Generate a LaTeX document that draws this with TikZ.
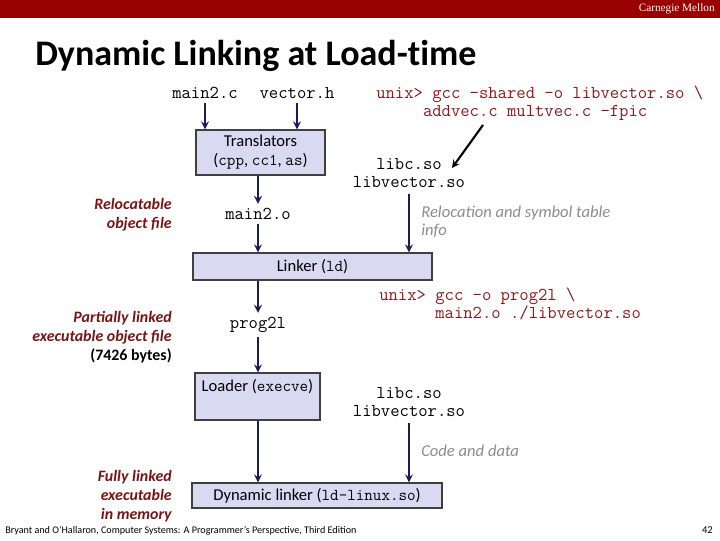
\documentclass[tikz,border=0pt]{standalone}
\usepackage{fontspec}
\setmainfont{Carlito}
\setsansfont{Carlito}
\newfontfamily\cmuserif{Liberation Serif}
\usepackage{xcolor}
\usepackage{tikz}

\definecolor{cmured}{HTML}{990000}
\definecolor{capred}{HTML}{7A1414}
\definecolor{cmdred}{HTML}{8B1A1A}
\definecolor{arrowblue}{HTML}{1C1C5C}
\definecolor{boxfill}{HTML}{D9D9F2}
\definecolor{notegray}{HTML}{8C8C8C}

\begin{document}
\begin{tikzpicture}[>=stealth,x=0.025cm,y=-0.025cm,
  box/.style={draw=black!75,line width=0.8pt,fill=boxfill,inner sep=0pt,font=\fontsize{11.8}{13.5}\selectfont,align=center},
  file/.style={inner sep=3pt,font=\ttfamily\fontsize{12.9}{13.5}\selectfont,align=center},
  cmd/.style={anchor=north west,inner sep=0pt,text=cmdred,font=\ttfamily\fontsize{12.9}{12.2}\selectfont,align=left},
  caption/.style={anchor=east,inner sep=0pt,text=capred,font=\bfseries\itshape\fontsize{11.3}{13.5}\selectfont,align=right},
  note/.style={anchor=west,inner sep=0pt,text=notegray,font=\itshape\fontsize{11.8}{13}\selectfont,align=left},
  flow/.style={->,arrowblue,line width=1.5pt}]
\useasboundingbox (0,0) rectangle (720,540);
\fill[cmured] (0,0) rectangle (720,18);
\node[anchor=east,inner sep=0pt,text=white,font=\cmuserif\fontsize{8}{9}\selectfont] (cmu) at (715,9) {Carnegie Mellon};
\node[anchor=base west,inner sep=0pt,font=\bfseries\fontsize{25.6}{28}\selectfont\addfontfeatures{Ligatures=NoCommon}] (title) at (35,65) {Dynamic Linking at Load-time};

% compile and link
\node[file] (mainc) at (205,93) {main2.c};
\node[file] (vech) at (297,93) {vector.h};
\node[box,minimum width=3.225cm,minimum height=1.125cm] (trans) at (260.5,152.5) {Translators\\(\texttt{cpp}, \texttt{cc1}, \texttt{as})};
\node[file] (maino) at (258,214) {main2.o};
\node[box,minimum width=5.975cm,minimum height=0.675cm] (linker) at (312.5,266.5) {Linker (\texttt{ld})};
\node[cmd] (cmdso) at (376,86) {unix> gcc -shared -o libvector.so \textbackslash\\\phantom{unix>}addvec.c multvec.c -fpic};
\node[file,inner sep=4pt] (libsa) at (409,173) {libc.so\\libvector.so};
\node[note] (reloc) at (421,222) {Relocation and symbol table\\info};
\node[caption] (relcap) at (172,215) {Relocatable\\object file};
\coordinate (gccfrom) at (483,125);
\coordinate (gccto) at (452,168);

% load and run
\node[file] (progl) at (258,325) {prog2l};
\node[box,minimum width=3.125cm,minimum height=1.175cm,
  label={[anchor=north,inner sep=5pt,font=\fontsize{11.8}{13.5}\selectfont]north:Loader (\texttt{execve})}] (loader) at (257.5,396.5) {};
\node[cmd] (cmdprog) at (379,288) {unix> gcc –o prog2l \textbackslash\\\phantom{unix> }main2.o ./libvector.so};
\node[file,inner sep=4pt] (libsb) at (409,402) {libc.so\\libvector.so};
\node[note] (codedata) at (421,451) {Code and data};
\node[box,minimum width=6.25cm,minimum height=0.625cm] (dyn) at (317,495.5) {Dynamic linker (\texttt{ld-linux.so})};
\node[caption,text=capred] (partcap) at (172,337) {Partially linked\\executable object file\\\textcolor{black}{\upshape(7426 bytes)}};
\node[caption] (fullcap) at (172,496) {Fully linked\\executable\\in memory};

\draw[flow] (mainc.south) -- (trans.north -| mainc);
\draw[flow] (vech.south) -- (trans.north -| vech);
\draw[flow] (trans.south -| maino) -- (maino.north);
\draw[flow] (maino.south) -- (linker.north -| maino);
\draw[flow] (libsa.south) -- (linker.north -| libsa);
\draw[->,black,line width=1.5pt] (gccfrom) -- (gccto);
\draw[flow] (linker.south -| progl) -- (progl.north);
\draw[flow] (progl.south) -- (loader.north -| progl);
\draw[flow] (loader.south -| progl) -- (dyn.north -| progl);
\draw[flow] (libsb.south) -- (dyn.north -| libsb);

\node[anchor=west,inner sep=0pt,font=\fontsize{7.2}{8}\selectfont] (credit) at (5,531) {Bryant and O’Hallaron, Computer Systems: A Programmer’s Perspective, Third Edition};
\node[anchor=east,inner sep=0pt,font=\fontsize{7.5}{8}\selectfont] (pagenum) at (713,530) {42};
\end{tikzpicture}
\end{document}
